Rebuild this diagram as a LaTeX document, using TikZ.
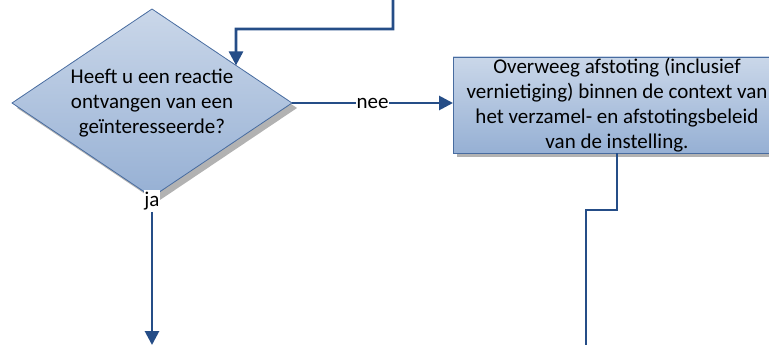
\documentclass[tikz,border=0pt]{standalone}
\usepackage{fontspec}
\setmainfont{Carlito}
\usepackage{xcolor}
\usepackage{tikz}
\usetikzlibrary{shapes.geometric,shadows,calc,arrows.meta}

\definecolor{flowline}{RGB}{37,77,135}
\definecolor{shapeedge}{RGB}{72,108,160}
\definecolor{filltop}{RGB}{202,215,233}
\definecolor{fillbot}{RGB}{150,176,212}

\begin{document}
\begin{tikzpicture}[x=1pt,y=-1pt,thick,
    >={Triangle[length=14pt,width=14pt]},
    every node/.style={font=\fontsize{21}{25}\selectfont},
    flow/.style={draw=flowline,line width=2.8pt},
    decision/.style={diamond,aspect=1.49,draw=shapeedge,line width=0.8pt,
      top color=filltop,bottom color=fillbot,inner sep=0pt,outer sep=0pt,
      minimum width=280pt,minimum height=188pt,align=center,
      drop shadow={shadow xshift=5pt,shadow yshift=-5pt,fill=black!30,opacity=1}},
    action/.style={rectangle,draw=shapeedge,line width=0.8pt,
      top color=filltop,bottom color=fillbot,inner sep=0pt,outer sep=0pt,
      minimum width=328pt,minimum height=96pt,align=center,
      drop shadow={shadow xshift=4pt,shadow yshift=-4pt,fill=black!30,opacity=1}},
    answer/.style={fill=white,inner xsep=0.8pt,inner ysep=1.5pt}]

    \useasboundingbox (0,0) rectangle (769,345);

    % The shapes
    \node [decision] at (152,103) (ask) {Heeft u een reactie\\ontvangen van een\\geïnteresseerde?};
    \node [action] at (617,105) (dispose) {Overweeg afstoting (inclusief\\vernietiging) binnen de context van\\het verzamel- en afstotingsbeleid\\van de instelling.};
    \node [answer] at (152,201) (ja) {ja};

    % Loose ends
    \coordinate (from) at (393,0);
    \coordinate (bend) at (236,29);
    \coordinate (jaout) at (152,345);
    \coordinate (dispout) at (586,345);

    % Connectors
    \draw[flow,->] (from) |- (bend) -- ($(ask.north)!0.6!(ask.east)$);
    \draw[flow,->] (ask.east) -- node [answer] {nee} (ask.east -| dispose.west);
    \draw[flow,->] (ja) -- (jaout);
    \draw[flow] (dispose.south) -- ++(0,57) -| (dispout);
\end{tikzpicture}
\end{document}
